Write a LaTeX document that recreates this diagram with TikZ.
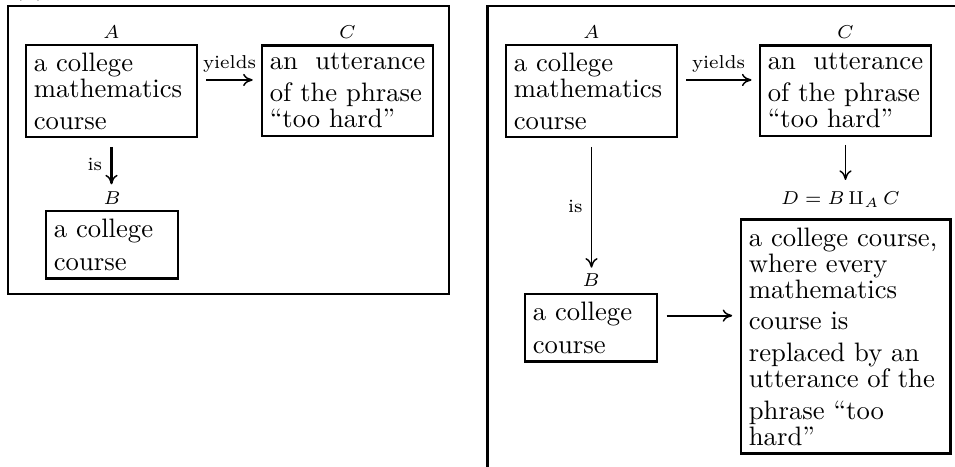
\documentclass[tikz,border=0pt]{standalone}
\usetikzlibrary{arrows.meta,calc}
\begin{document}
\begin{tikzpicture}[x=0.375pt,y=-0.375pt,
  box/.style={draw, line width=0.9pt, inner sep=3pt, anchor=north west, align=justify,
    font={\fontsize{10pt}{9.75pt}\selectfont}},
  lbl/.style={font=\scriptsize, inner sep=0pt},
  arr/.style={line width=0.7pt, -{To[length=3.6pt,width=4.6pt,line width=0.55pt]}},
  frame/.style={line width=1.1pt}]
\useasboundingbox (0,0) rectangle (955,467);

% partially visible caption (cut off at the top, as in the reference)
\node[anchor=base west, inner sep=0pt] (cap) at (12,-5.2) {(a)};

% ---------- left panel ----------
\draw[frame] (8,6) rectangle (449,294);
\node[box, text width=58.2pt] (A) at (24.7,43.7) {a college\\ mathematics\\[2.1pt] course};
\node[box, text width=58.2pt] (C) at (260.7,44.3) {an\hfill utterance\\[2.1pt] of the phrase\\ ``too hard''};
\node[box, text width=43.6pt] (B) at (44.7,209.7) {a college\\[2.5pt] course};
\node[lbl, anchor=base] (Al) at ([yshift=2pt]A.north) {$A$};
\node[lbl, anchor=base] (Cl) at ([yshift=2.2pt]C.north) {$C$};
\node[lbl, anchor=base] (Bl) at ([yshift=2.1pt]B.north) {$B$};
\draw[arr, shorten <=3pt, shorten >=3pt] ([yshift=-13.6pt]A.north east) -- ([yshift=-13.6pt]A.north east -| C.west)
  node[midway, lbl, anchor=base, yshift=4.4pt] {yields};
\draw[arr, line width=1pt, shorten <=3.1pt, shorten >=2.4pt] (A.south) -- (A.south |- Bl.north)
  node[midway, lbl, left, inner sep=3pt] {is};

% ---------- right panel ----------
\draw[frame] (487.3,467) -- (487.3,6) -- (955,6);
\node[box, text width=58.2pt] (A2) at (504.7,43.7) {a college\\ mathematics\\[2.1pt] course};
\node[box, text width=58.2pt] (C2) at (758.7,44.3) {an\hfill utterance\\[2.1pt] of the phrase\\ ``too hard''};
\node[box, text width=43.6pt] (B2) at (523.7,292.7) {a college\\[2.5pt] course};
\node[box, text width=72.6pt] (D) at (739.7,218.3) {a college course,\\ where every\\ mathematics\\[2.1pt] course is\\[2.1pt] replaced by an\\ utterance of the\\[2.3pt] phrase ``too\\ hard''};
\node[lbl, anchor=base] (A2l) at ([yshift=2pt]A2.north) {$A$};
\node[lbl, anchor=base] (C2l) at ([yshift=2.2pt]C2.north) {$C$};
\node[lbl, anchor=base] (B2l) at ([yshift=2.2pt]B2.north) {$B$};
\node[lbl, anchor=base] (Dl) at ([xshift=-2pt, yshift=5pt]D.north) {$D = B\mathop{\amalg}\nolimits_A C$};
\draw[arr, shorten <=3pt, shorten >=2.7pt] ([yshift=-13.6pt]A2.north east) -- ([yshift=-13.6pt]A2.north east -| C2.west)
  node[midway, lbl, anchor=base, yshift=4.4pt] {yields};
\draw[arr, shorten <=3.1pt, shorten >=2.2pt] (A2.south) -- (A2.south |- B2l.north)
  node[midway, lbl, left, inner sep=3pt] {is};
\draw[arr, shorten <=3pt, shorten >=4.4pt] (C2.south) -- (C2.south |- Dl.north);
\draw[arr, shorten <=3.1pt, shorten >=2.8pt] ([yshift=-8.6pt]B2.north east) -- ([yshift=-8.6pt]B2.north east -| D.west);
\end{tikzpicture}
\end{document}
